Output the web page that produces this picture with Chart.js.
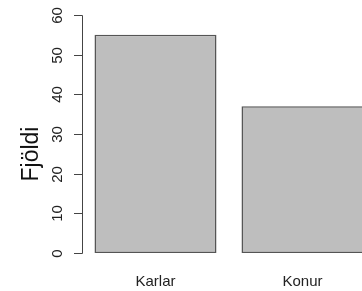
<!DOCTYPE html>
<html>
<head>
<meta charset="utf-8">
<script src="https://cdn.jsdelivr.net/npm/chart.js@4/dist/chart.umd.min.js"></script>
<style>
html,body{margin:0;padding:0;background:#fff;overflow:hidden;}
#wrap{width:380px;height:291px;}
</style>
</head>
<body>
<div id="wrap"><canvas id="c" width="380" height="291"></canvas></div>
<script>
const categories = ["Karlar", "Konur"];
const counts = [55, 37];
const yTicks = [0, 10, 20, 30, 40, 50, 60];
const yTitle = "Fjöldi";

const FONT = "'Liberation Sans', Arial, sans-serif";

const rAxisPlugin = {
  id: 'rAxis',
  afterDraw(chart) {
    const ctx = chart.ctx;
    const y = chart.scales.y;
    const axX = 82.5;
    ctx.save();
    ctx.strokeStyle = '#444';
    ctx.lineWidth = 1;
    ctx.beginPath();
    ctx.moveTo(axX, Math.round(y.getPixelForValue(yTicks[0])) + 0.5);
    ctx.lineTo(axX, Math.round(y.getPixelForValue(yTicks[yTicks.length - 1])) + 0.5);
    ctx.stroke();
    ctx.fillStyle = '#222';
    ctx.font = '15px ' + FONT;
    ctx.textAlign = 'center';
    ctx.textBaseline = 'alphabetic';
    yTicks.forEach(v => {
      const py = Math.round(y.getPixelForValue(v)) + 0.5;
      ctx.beginPath();
      ctx.moveTo(74, py);
      ctx.lineTo(axX, py);
      ctx.stroke();
      ctx.save();
      ctx.translate(62, py);
      ctx.rotate(-Math.PI / 2);
      ctx.fillText(String(v), 0, 0);
      ctx.restore();
    });
    ctx.font = '23px ' + FONT;
    ctx.fillStyle = '#111';
    ctx.save();
    ctx.translate(38, 154);
    ctx.rotate(-Math.PI / 2);
    ctx.fillText(yTitle, 0, 0);
    ctx.restore();
    ctx.restore();
  }
};

new Chart(document.getElementById('c'), {
  type: 'bar',
  data: {
    labels: categories,
    datasets: [{
      data: counts,
      backgroundColor: '#bebebe',
      borderColor: '#555',
      borderWidth: 1.5,
      borderSkipped: false,
      categoryPercentage: 1,
      barPercentage: 0.83
    }]
  },
  options: {
    responsive: false,
    animation: false,
    devicePixelRatio: 1,
    layout: { padding: { left: 82, right: 4, top: 15, bottom: 0 } },
    plugins: { legend: { display: false }, tooltip: { enabled: false } },
    scales: {
      x: {
        grid: { display: false, drawTicks: false },
        border: { display: false },
        ticks: { padding: 20, color: '#222', font: { family: FONT, size: 15 } },
        afterFit(scale) { scale.height = 38; }
      },
      y: {
        display: false,
        min: 0,
        max: 60,
        ticks: { stepSize: 10 }
      }
    }
  },
  plugins: [rAxisPlugin]
});
</script>
</body>
</html>
